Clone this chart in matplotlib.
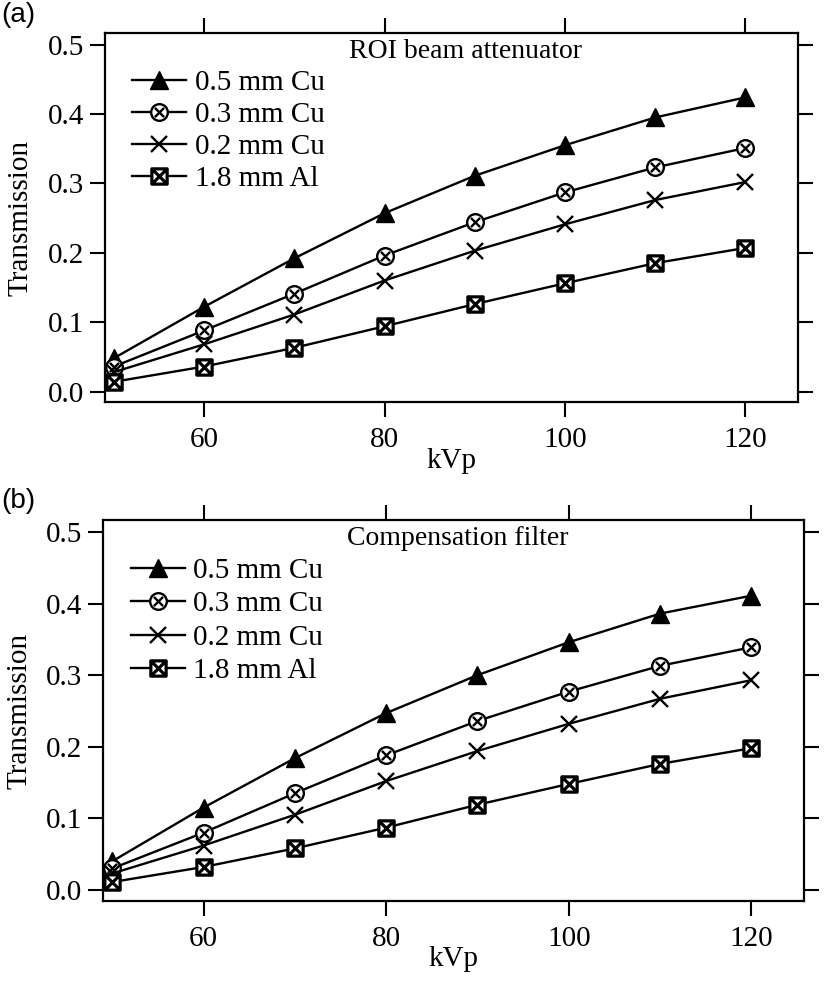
import numpy as np
import matplotlib.pyplot as plt
from matplotlib.path import Path
from matplotlib.ticker import FormatStrFormatter

plt.rcParams['font.family'] = ['Liberation Serif', 'DejaVu Serif']

kvp = [50, 60, 70, 80, 90, 100, 110, 120]
labels = ['0.5 mm Cu', '0.3 mm Cu', '0.2 mm Cu', '1.8 mm Al']

# (a) ROI beam attenuator
roi_cu05 = [0.048, 0.122, 0.192, 0.257, 0.311, 0.355, 0.395, 0.424]
roi_cu03 = [0.036, 0.088, 0.141, 0.196, 0.244, 0.287, 0.323, 0.351]
roi_cu02 = [0.028, 0.068, 0.111, 0.160, 0.203, 0.241, 0.276, 0.302]
roi_al18 = [0.014, 0.036, 0.063, 0.094, 0.126, 0.156, 0.185, 0.207]

# (b) Compensation filter
comp_cu05 = [0.040, 0.115, 0.184, 0.247, 0.300, 0.346, 0.386, 0.411]
comp_cu03 = [0.030, 0.080, 0.135, 0.188, 0.236, 0.277, 0.313, 0.339]
comp_cu02 = [0.023, 0.062, 0.105, 0.152, 0.194, 0.232, 0.267, 0.293]
comp_al18 = [0.011, 0.032, 0.058, 0.087, 0.119, 0.148, 0.176, 0.198]

# circle with an x inside, square with an x inside
c = Path.unit_circle()
d = 0.55
cross = Path([(-d, -d), (d, d), (-d, d), (d, -d)],
             [Path.MOVETO, Path.LINETO, Path.MOVETO, Path.LINETO])
circ_x = Path.make_compound_path(c, cross)
sq = Path([(-1, -1), (1, -1), (1, 1), (-1, 1), (-1, -1)],
          [Path.MOVETO, Path.LINETO, Path.LINETO, Path.LINETO, Path.CLOSEPOLY])
diag = Path([(-1, -1), (1, 1), (-1, 1), (1, -1)],
            [Path.MOVETO, Path.LINETO, Path.MOVETO, Path.LINETO])
sq_x = Path.make_compound_path(sq, diag)

styles = [dict(marker='^', ms=13, mfc='black', mec='black'),
          dict(marker=circ_x, ms=12, mfc='white', mec='black', mew=1.7),
          dict(marker='x', ms=12, mec='black', mew=1.7),
          dict(marker=sq_x, ms=11, mfc='white', mec='black', mew=2.3)]

fig = plt.figure(figsize=(8.25, 9.86), dpi=100)
ax1 = fig.add_axes([0.127, 0.592, 0.840, 0.3745])
ax2 = fig.add_axes([0.125, 0.0862, 0.850, 0.3864])

panels = [(ax1, [roi_cu05, roi_cu03, roi_cu02, roi_al18], 'ROI beam attenuator', '(a)', 0.52, 0.19),
          (ax2, [comp_cu05, comp_cu03, comp_cu02, comp_al18], 'Compensation filter', '(b)', 0.505, 0.24)]

for ax, series, title, tag, tx, lsp in panels:
    for vals, lab, st in zip(series, labels, styles):
        ax.plot(kvp, vals, color='black', lw=1.7, label=lab, **st)
    ax.set_xlim(49.0, 125.8)
    ax.set_ylim(-0.0155, 0.5167)
    ax.set_xticks([60, 80, 100, 120])
    ax.set_yticks([0.0, 0.1, 0.2, 0.3, 0.4, 0.5])
    ax.yaxis.set_major_formatter(FormatStrFormatter('%.1f'))
    ax.tick_params(direction='out', top=True, right=True, length=11, width=1.5,
                   labelsize=21)
    ax.tick_params(axis='x', pad=7)
    ax.tick_params(axis='y', pad=4)
    for s in ax.spines.values():
        s.set_linewidth(1.6)
    ax.set_xlabel('kVp', fontsize=21, labelpad=-4)
    ax.set_ylabel('Transmission', fontsize=21, labelpad=10)
    ax.text(tx, 0.985, title, transform=ax.transAxes, ha='center', va='top', fontsize=20)
    ax.legend(loc='upper left', bbox_to_anchor=(0.01, 0.955), frameon=False, fontsize=21,
              handlelength=1.85, handletextpad=0.3, labelspacing=lsp, borderpad=0.2)

fig.text(0.002, 0.998, '(a)', family=['Liberation Sans', 'DejaVu Sans'], fontsize=20, va='top')
fig.text(0.002, 0.505, '(b)', family=['Liberation Sans', 'DejaVu Sans'], fontsize=20, va='top')

fig.savefig('out.png', dpi=100)
